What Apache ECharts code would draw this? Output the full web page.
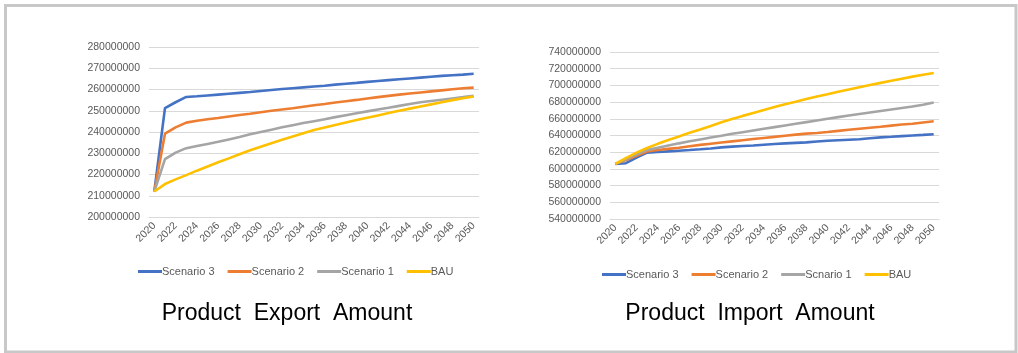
<!DOCTYPE html>
<html>
<head>
<meta charset="utf-8">
<script src="https://cdn.jsdelivr.net/npm/echarts@6/dist/echarts.min.js"></script>
<style>
  html, body { margin: 0; padding: 0; background: #fff; }
  #main { width: 1018px; height: 353px; }
</style>
</head>
<body>
<div id="main"></div>
<script>
var years = [];
for (var y = 2020; y <= 2050; y++) { years.push(String(y)); }

// Product export amount (values in millions)
var exportS3 = [212.0, 251.2, 254.0, 256.5, 256.8, 257.2, 257.6, 258.0, 258.4, 258.8, 259.3, 259.8, 260.2, 260.6, 261.0, 261.4, 261.8, 262.3, 262.7, 263.1, 263.6, 264.0, 264.4, 264.8, 265.2, 265.6, 266.0, 266.4, 266.7, 267.0, 267.4];
var exportS2 = [212.0, 239.2, 242.2, 244.4, 245.3, 246.0, 246.6, 247.3, 248.0, 248.6, 249.3, 250.0, 250.6, 251.2, 251.9, 252.6, 253.2, 253.9, 254.5, 255.1, 255.8, 256.4, 257.0, 257.6, 258.1, 258.6, 259.1, 259.6, 260.1, 260.6, 260.9];
var exportS1 = [212.0, 227.2, 230.3, 232.4, 233.4, 234.4, 235.4, 236.5, 237.6, 238.9, 240.0, 241.1, 242.2, 243.2, 244.2, 245.1, 246.0, 247.0, 247.9, 248.8, 249.7, 250.6, 251.4, 252.3, 253.2, 254.0, 254.6, 255.2, 255.8, 256.4, 257.1];
var exportBAU = [212.0, 215.5, 217.7, 219.7, 221.8, 223.8, 225.8, 227.6, 229.5, 231.4, 233.1, 234.7, 236.3, 237.9, 239.4, 240.9, 242.1, 243.3, 244.5, 245.6, 246.7, 247.8, 248.9, 250.0, 251.0, 252.0, 253.0, 254.0, 255.0, 255.9, 256.7];

// Product import amount (values in millions)
var importS3 = [606.0, 606.8, 613.5, 619.5, 620.2, 621.0, 621.8, 622.6, 623.5, 624.5, 625.8, 626.7, 627.4, 628.1, 629.0, 629.9, 630.6, 631.2, 631.8, 632.8, 633.7, 634.4, 635.0, 635.6, 636.8, 637.8, 638.5, 639.3, 640.0, 640.7, 641.5];
var importS2 = [606.0, 610.5, 615.8, 620.8, 622.6, 624.0, 625.4, 627.2, 628.8, 630.2, 631.6, 633.0, 634.4, 635.8, 637.1, 638.4, 639.7, 641.0, 642.2, 643.0, 644.2, 645.5, 646.8, 648.0, 649.2, 650.4, 651.8, 653.1, 654.0, 655.5, 657.0];
var importS1 = [606.0, 611.5, 617.5, 622.5, 625.3, 628.0, 630.6, 633.0, 635.3, 637.5, 639.6, 642.0, 644.0, 646.0, 648.0, 650.0, 652.0, 654.0, 656.0, 658.0, 660.0, 662.0, 664.0, 665.8, 667.6, 669.4, 671.2, 673.0, 674.8, 676.9, 679.5];
var importBAU = [606.0, 613.0, 619.5, 625.0, 630.0, 634.5, 638.8, 643.2, 647.3, 651.5, 655.8, 659.8, 663.5, 667.0, 670.5, 674.0, 677.5, 680.5, 683.8, 686.8, 689.5, 692.3, 695.0, 697.8, 700.5, 703.0, 705.5, 708.0, 710.5, 712.8, 714.8];

var exportNames = ['Scenario 3', 'Scenario 2', 'Scenario 1', 'BAU'];
var importNames = ['Scenario 3', 'Scenario 2', 'Scnario 1', 'BAU'];
var colors = ['#4472C4', '#ED7D31', '#A5A5A5', '#FFC000'];

function toUnits(arr) {
  return arr.map(function(v) { return Math.round(v * 1000000); });
}

var labelColor = '#595959';
var gridColor = '#d9d9d9';

function xAxis(gridIndex) {
  return {
    type: 'category',
    gridIndex: gridIndex,
    data: years,
    boundaryGap: true,
    axisLine: { lineStyle: { color: gridColor } },
    axisTick: { show: false },
    axisLabel: { interval: 1, rotate: 45, color: labelColor, fontSize: 10.5, margin: 7, fontFamily: 'Liberation Sans' }
  };
}

function yAxis(gridIndex, min, max, step) {
  return {
    type: 'value',
    gridIndex: gridIndex,
    min: min, max: max, interval: step,
    axisLine: { show: false },
    axisTick: { show: false },
    splitLine: { lineStyle: { color: gridColor, width: 1 } },
    axisLabel: {
      color: labelColor, fontSize: 10.5, margin: 9, fontFamily: 'Liberation Sans',
      formatter: function(v) { return String(v); }
    }
  };
}

function legend(names, left, top) {
  return {
    data: names,
    left: left, top: top,
    icon: 'rect', itemWidth: 24, itemHeight: 3, itemGap: 13,
    textStyle: { color: labelColor, fontSize: 11, padding: [0, 0, 0, -5], fontFamily: 'Liberation Sans' }
  };
}

function lines(names, datas, xi, yi) {
  return names.map(function(n, i) {
    return {
      name: n, type: 'line', xAxisIndex: xi, yAxisIndex: yi,
      data: toUnits(datas[i]),
      showSymbol: false, smooth: false,
      lineStyle: { width: 2.6, color: colors[i] },
      itemStyle: { color: colors[i] }
    };
  });
}

var chart = echarts.init(document.getElementById('main'));
chart.setOption({
  animation: false,
  title: [
    { text: 'Product  Export  Amount', left: 282, top: 297, textAlign: 'center',
      textStyle: { color: '#000', fontSize: 23, fontWeight: 'normal', fontFamily: 'Liberation Sans' } },
    { text: 'Product  Import  Amount', left: 745, top: 297, textAlign: 'center',
      textStyle: { color: '#000', fontSize: 23, fontWeight: 'normal', fontFamily: 'Liberation Sans' } }
  ],
  legend: [
    legend(exportNames, 133, 261),
    legend(importNames, 597, 264)
  ],
  grid: [
    { left: 149, right: 539, top: 47, bottom: 136 },
    { left: 610, right: 79, top: 52, bottom: 134 }
  ],
  xAxis: [xAxis(0), xAxis(1)],
  yAxis: [
    yAxis(0, 200000000, 280000000, 10000000),
    yAxis(1, 540000000, 740000000, 20000000)
  ],
  series: lines(exportNames, [exportS3, exportS2, exportS1, exportBAU], 0, 0)
    .concat(lines(importNames, [importS3, importS2, importS1, importBAU], 1, 1)),
  graphic: [{
    type: 'rect', silent: true,
    shape: { x: 5.5, y: 5.5, width: 1010.5, height: 346.5 },
    style: { fill: 'none', stroke: '#c8c8c8', lineWidth: 3 }
  }]
});
</script>
</body>
</html>
